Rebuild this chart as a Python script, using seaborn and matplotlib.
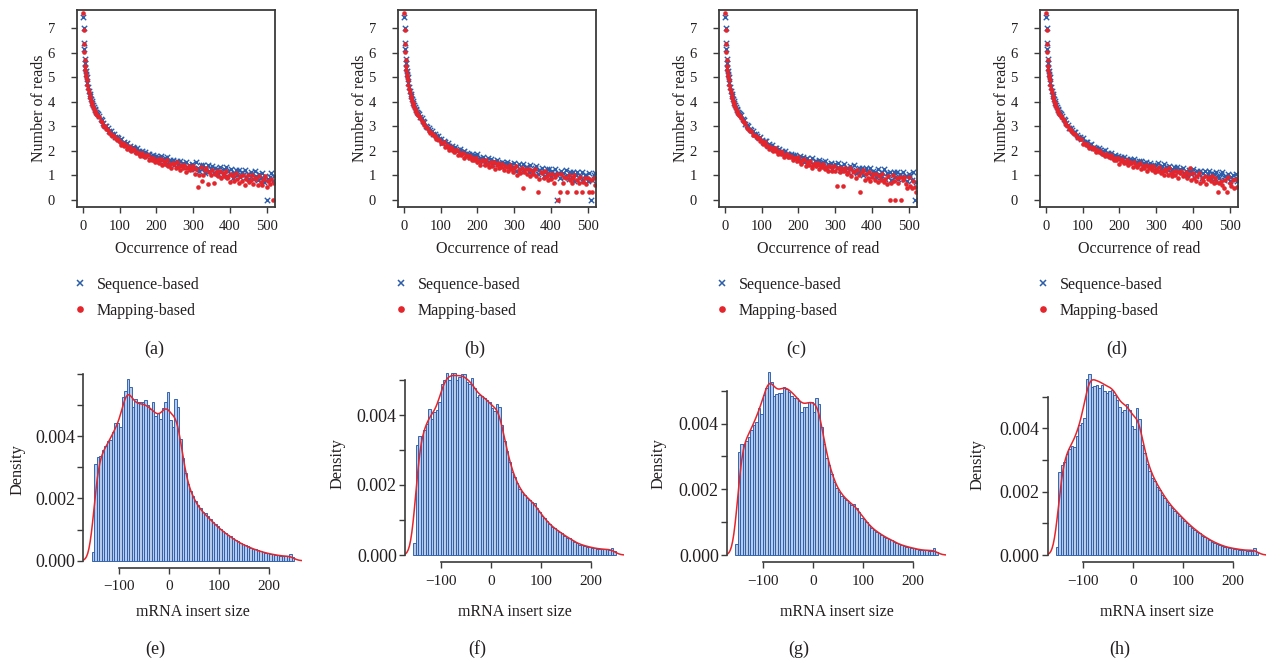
import matplotlib
matplotlib.use("Agg")
import matplotlib.pyplot as plt
from matplotlib.lines import Line2D
from matplotlib.ticker import MultipleLocator, FuncFormatter
import numpy as np
import pandas as pd
import seaborn as sns

sns.set_style("ticks")
plt.rcParams["font.family"] = ["Liberation Serif", "DejaVu Serif"]
plt.rcParams["axes.unicode_minus"] = True

# ---------------- data: read occurrence (top row) ----------------
OCCURRENCE = list(range(1, 11)) + list(range(12, 41, 2)) + list(range(44, 521, 4))

HEAD_SEQ = [7.45, 7.00, 6.42, 6.15, 5.75, 5.60, 5.40, 5.25, 5.12, 5.00,
            4.78, 4.61, 4.46, 4.33, 4.22, 4.12, 4.02, 3.94, 3.86, 3.79, 3.72, 3.66, 3.60, 3.55, 3.50]
HEAD_MAP = [7.62, 6.93, 6.35, 6.05, 5.70, 5.45, 5.30, 5.15, 5.02, 4.90,
            4.70, 4.53, 4.38, 4.25, 4.14, 4.04, 3.94, 3.86, 3.78, 3.71, 3.64, 3.58, 3.52, 3.47, 3.42]

SEQ_A_TAIL = [3.43, 3.29, 3.27, 3.14, 3.03, 2.99, 2.94, 2.80, 2.79, 2.70, 2.69, 2.56, 2.55, 2.52,
              2.43, 2.46, 2.30, 2.35, 2.26, 2.31, 2.17, 2.18, 2.07, 2.16, 2.10, 2.00, 2.10, 1.98, 1.91, 1.98, 1.89, 1.95, 1.79, 1.86, 1.88, 1.77, 1.78, 1.83, 1.68,
              1.77, 1.74, 1.58, 1.79, 1.64, 1.56, 1.69, 1.74, 1.47, 1.61, 1.51, 1.64, 1.40, 1.52, 1.58, 1.45, 1.58, 1.37, 1.50, 1.41, 1.54, 1.35, 1.41, 1.27, 1.45,
              1.41, 1.24, 1.52, 1.31, 1.18, 1.40, 1.25, 1.42, 1.10, 1.31, 1.40, 1.18, 1.24, 1.39, 1.09, 1.28, 1.25, 1.05, 1.34, 1.15, 1.05, 1.24, 1.32, 0.97, 1.16,
              1.03, 1.24, 0.89, 1.08, 1.20, 1.01, 1.22, 0.91, 1.12, 1.00, 1.21, 0.92, 1.03, 0.83, 1.12, 1.05, 0.86, 1.18, 0.95, 0.80, 1.06, 0.89, 1.08, 0.74, 0.97, 0.00, 0.84, 0.91, 1.09, 0.76, 0.97]
MAP_A_TAIL = [3.36, 3.23, 3.18, 3.03, 2.99, 2.88, 2.86, 2.74, 2.70, 2.60, 2.60, 2.53, 2.45, 2.46,
              2.34, 2.23, 2.31, 2.19, 2.24, 2.05, 2.13, 2.14, 2.00, 2.01, 2.06, 1.89, 1.96, 1.92, 1.80, 1.92, 1.80, 1.74, 1.81, 1.83, 1.64, 1.72, 1.64, 1.72, 1.55,
              1.59, 1.66, 1.51, 1.66, 1.42, 1.57, 1.46, 1.62, 1.39, 1.47, 1.30, 1.51, 1.45, 1.30, 1.52, 1.35, 1.23, 1.41, 1.28, 1.42, 1.14, 1.31, 1.39, 1.20, 1.24,
              1.38, 1.05, 1.26, 0.52, 1.00, 1.33, 0.75, 1.01, 1.22, 1.31, 0.66, 1.13, 1.00, 1.21, 0.70, 1.05, 1.16, 0.97, 1.18, 0.87, 1.08, 0.95, 1.16, 0.87, 0.98,
              0.71, 1.03, 0.96, 0.75, 1.10, 0.85, 0.68, 0.96, 0.77, 0.99, 0.61, 0.86, 0.99, 0.72, 0.80, 0.99, 0.63, 0.87, 0.84, 0.58, 0.96, 0.73, 0.61, 0.85, 0.95, 0.52, 0.76, 0.62, 0.86, 0.00, 0.69]

SEQ_B_TAIL = [3.38, 3.33, 3.21, 3.17, 3.01, 2.97, 2.92, 2.83, 2.81, 2.69, 2.68, 2.59, 2.59, 2.48,
              2.46, 2.33, 2.41, 2.34, 2.23, 2.32, 2.20, 2.11, 2.18, 2.09, 2.14, 1.97, 2.04, 2.05, 1.94, 1.94, 1.98, 1.83, 1.90, 1.86, 1.76, 1.87, 1.77, 1.71, 1.78,
              1.85, 1.58, 1.71, 1.62, 1.74, 1.51, 1.62, 1.69, 1.55, 1.68, 1.47, 1.60, 1.50, 1.64, 1.44, 1.50, 1.36, 1.54, 1.49, 1.36, 1.55, 1.40, 1.30, 1.46, 1.33,
              1.49, 1.17, 1.38, 1.47, 1.25, 1.31, 1.46, 1.16, 1.35, 1.32, 1.12, 1.41, 1.22, 1.12, 1.31, 1.39, 1.04, 1.23, 1.11, 1.30, 0.98, 1.15, 1.25, 1.08, 1.26,
              0.97, 1.18, 1.05, 1.26, 0.00, 1.09, 0.88, 1.17, 1.10, 0.92, 1.23, 1.00, 0.85, 1.11, 0.94, 1.13, 0.78, 1.02, 1.13, 0.88, 0.96, 1.13, 0.80, 1.02, 0.99, 0.76, 1.10, 0.00, 0.79, 1.00, 1.09]
MAP_B_TAIL = [3.34, 3.20, 3.17, 3.07, 2.95, 2.93, 2.82, 2.73, 2.72, 2.63, 2.61, 2.48, 2.48, 2.45,
              2.31, 2.30, 2.34, 2.16, 2.22, 2.17, 2.04, 2.15, 2.03, 1.96, 2.03, 2.04, 1.84, 1.91, 1.83, 1.90, 1.72, 1.79, 1.82, 1.71, 1.79, 1.64, 1.72, 1.64, 1.72,
              1.52, 1.59, 1.42, 1.63, 1.57, 1.42, 1.64, 1.47, 1.34, 1.53, 1.39, 1.53, 1.25, 1.42, 1.49, 1.30, 1.35, 1.47, 1.22, 1.37, 1.34, 1.16, 1.41, 1.25, 1.15,
              1.30, 1.39, 1.00, 1.21, 1.08, 1.29, 0.47, 1.13, 1.24, 1.05, 1.26, 0.95, 1.16, 1.03, 1.24, 0.95, 0.31, 0.85, 1.14, 1.07, 0.88, 1.19, 0.96, 0.81, 1.06,
              0.84, 1.05, 0.67, 0.92, 1.06, 0.00, 0.31, 1.05, 0.69, 0.93, 0.90, 0.31, 1.01, 0.79, 0.67, 0.90, 1.00, 0.31, 0.81, 0.67, 0.91, 0.31, 0.74, 0.87, 0.66, 0.90, 0.31, 0.80, 0.31, 0.90, 0.58]

SEQ_C_TAIL = [3.44, 3.31, 3.26, 3.10, 3.06, 3.00, 2.88, 2.84, 2.82, 2.69, 2.68, 2.61, 2.52, 2.54,
              2.44, 2.35, 2.40, 2.40, 2.21, 2.26, 2.18, 2.23, 2.06, 2.11, 2.13, 2.03, 2.08, 1.93, 2.00, 1.92, 1.98, 1.85, 1.88, 1.77, 1.87, 1.82, 1.73, 1.84, 1.73,
              1.62, 1.77, 1.64, 1.76, 1.52, 1.67, 1.72, 1.56, 1.59, 1.70, 1.47, 1.60, 1.57, 1.42, 1.62, 1.48, 1.40, 1.53, 1.58, 1.32, 1.45, 1.36, 1.49, 1.26, 1.37,
              1.47, 1.30, 1.48, 1.20, 1.39, 1.27, 1.46, 1.20, 1.30, 1.11, 1.37, 1.30, 1.13, 1.41, 1.20, 1.07, 1.29, 1.14, 1.31, 0.99, 1.20, 1.29, 1.07, 1.13, 1.28,
              0.97, 1.18, 1.15, 0.92, 1.26, 1.05, 0.94, 1.15, 1.24, 0.86, 1.07, 0.94, 1.15, 0.81, 1.00, 1.11, 0.92, 1.14, 0.83, 1.04, 0.92, 1.13, 0.84, 0.96, 0.75, 1.04, 0.98, 0.79, 1.11, 0.00, 0.73]
MAP_C_TAIL = [3.34, 3.22, 3.17, 3.10, 2.93, 2.90, 2.80, 2.79, 2.66, 2.64, 2.60, 2.51, 2.50, 2.39,
              2.39, 2.28, 2.34, 2.18, 2.19, 2.06, 2.16, 2.10, 1.99, 2.10, 1.97, 1.88, 1.97, 1.86, 1.93, 1.75, 1.83, 1.86, 1.73, 1.74, 1.80, 1.64, 1.72, 1.69, 1.57,
              1.73, 1.56, 1.46, 1.62, 1.67, 1.38, 1.52, 1.42, 1.57, 1.30, 1.43, 1.51, 1.36, 1.51, 1.27, 1.42, 1.32, 1.47, 1.25, 1.33, 1.16, 1.37, 1.32, 1.17, 1.39,
              1.18, 0.55, 1.28, 1.11, 1.30, 0.55, 1.18, 1.29, 1.04, 1.11, 1.28, 0.95, 1.16, 1.13, 0.90, 1.23, 1.02, 0.30, 1.12, 1.21, 0.82, 1.03, 0.90, 1.11, 0.76,
              0.91, 1.03, 0.82, 1.06, 0.73, 0.96, 0.82, 1.05, 0.73, 0.86, 0.63, 0.95, 0.00, 0.68, 1.02, 0.77, 0.00, 0.89, 0.70, 0.91, 0.00, 0.79, 0.92, 0.65, 0.48, 0.92, 0.57, 0.48, 0.78, 0.52, 0.30]

SEQ_D_TAIL = [3.43, 3.31, 3.26, 3.13, 3.05, 2.94, 2.92, 2.85, 2.76, 2.75, 2.66, 2.58, 2.57, 2.49,
              2.50, 2.34, 2.37, 2.37, 2.25, 2.24, 2.27, 2.12, 2.17, 2.13, 2.03, 2.11, 2.01, 1.95, 2.00, 2.01, 1.85, 1.90, 1.84, 1.89, 1.76, 1.80, 1.82, 1.74, 1.79,
              1.65, 1.74, 1.66, 1.76, 1.60, 1.65, 1.53, 1.67, 1.62, 1.52, 1.66, 1.54, 1.45, 1.57, 1.47, 1.56, 1.38, 1.48, 1.53, 1.40, 1.42, 1.50, 1.33, 1.43, 1.40,
              1.25, 1.48, 1.33, 1.25, 1.39, 1.45, 1.17, 1.32, 1.22, 1.37, 1.12, 1.25, 1.32, 1.19, 1.33, 1.11, 1.26, 1.16, 1.31, 1.10, 1.17, 1.02, 1.22, 1.17, 1.04,
              1.27, 1.08, 0.96, 1.16, 1.03, 1.18, 0.90, 1.08, 1.17, 0.98, 1.03, 1.16, 0.90, 1.07, 1.05, 0.86, 1.12, 0.96, 0.87, 1.04, 1.12, 0.81, 0.97, 0.88, 1.04, 0.76, 0.92, 1.01, 0.86, 1.03, 0.78]
MAP_D_TAIL = [3.35, 3.27, 3.14, 3.06, 3.00, 2.87, 2.83, 2.77, 2.67, 2.67, 2.58, 2.50, 2.49, 2.46,
              2.28, 2.32, 2.23, 2.27, 2.11, 2.14, 2.16, 2.05, 2.10, 1.96, 2.01, 1.94, 1.99, 1.85, 1.88, 1.77, 1.86, 1.81, 1.73, 1.82, 1.71, 1.64, 1.72, 1.64, 1.69,
              1.46, 1.60, 1.65, 1.49, 1.52, 1.63, 1.40, 1.53, 1.50, 1.35, 1.55, 1.41, 1.32, 1.46, 1.50, 1.24, 1.38, 1.28, 1.41, 1.18, 1.29, 1.36, 1.23, 1.36, 1.15,
              1.27, 1.16, 1.33, 1.09, 1.18, 1.00, 1.24, 1.18, 1.02, 1.28, 1.08, 0.95, 1.17, 1.02, 1.18, 0.88, 1.07, 1.17, 0.95, 1.01, 1.15, 0.87, 1.05, 1.30, 0.82,
              1.08, 0.88, 0.78, 0.98, 1.07, 0.70, 0.90, 0.77, 0.97, 0.65, 0.83, 0.93, 0.75, 0.96, 0.67, 0.87, 0.74, 0.31, 0.68, 0.78, 0.59, 0.47, 0.80, 0.31, 0.92, 0.70, 0.57, 0.81, 0.47, 0.83, 0.50]

SERIES_NAMES = ["Sequence-based", "Mapping-based"]
TOP_LABELS = ["(a)", "(b)", "(c)", "(d)"]

# ---------------- data: mRNA insert size densities (bottom row) ----------------
INSERT_BIN_START = -155
INSERT_BIN_WIDTH = 5
DENS_E = [0.00029, 0.00310, 0.00334, 0.00336, 0.00355, 0.00368, 0.00385, 0.00387, 0.00414, 0.00441,
          0.00441, 0.00430, 0.00524, 0.00546, 0.00582, 0.00559, 0.00492, 0.00518, 0.00510, 0.00508,
          0.00510, 0.00516, 0.00500, 0.00486, 0.00510, 0.00464, 0.00475, 0.00454, 0.00490, 0.00510,
          0.00543, 0.00452, 0.00430, 0.00518, 0.00492, 0.00390, 0.00330, 0.00280, 0.00245, 0.00225,
          0.00208, 0.00192, 0.00178, 0.00168, 0.00155, 0.00152, 0.00142, 0.00134, 0.00125, 0.00118,
          0.00110, 0.00102, 0.00096, 0.00090, 0.00084, 0.00078, 0.00072, 0.00067, 0.00062, 0.00057,
          0.00053, 0.00049, 0.00046, 0.00042, 0.00039, 0.00036, 0.00033, 0.00030, 0.00028, 0.00026,
          0.00024, 0.00022, 0.00020, 0.00019, 0.00018, 0.00016, 0.00015, 0.00014, 0.00014, 0.00020, 0.00012]
DENS_F = [0.00033, 0.00314, 0.00341, 0.00341, 0.00357, 0.00373, 0.00417, 0.00390, 0.00410, 0.00414,
          0.00438, 0.00488, 0.00500, 0.00519, 0.00500, 0.00519, 0.00520, 0.00500, 0.00510, 0.00518,
          0.00518, 0.00493, 0.00490, 0.00506, 0.00476, 0.00452, 0.00457, 0.00455, 0.00448, 0.00443,
          0.00438, 0.00419, 0.00412, 0.00432, 0.00423, 0.00371, 0.00326, 0.00297, 0.00267, 0.00238,
          0.00224, 0.00205, 0.00189, 0.00179, 0.00171, 0.00164, 0.00157, 0.00152, 0.00150, 0.00133,
          0.00124, 0.00112, 0.00105, 0.00097, 0.00088, 0.00081, 0.00076, 0.00071, 0.00067, 0.00062,
          0.00055, 0.00050, 0.00050, 0.00043, 0.00038, 0.00034, 0.00030, 0.00029, 0.00027, 0.00024,
          0.00023, 0.00021, 0.00020, 0.00018, 0.00017, 0.00017, 0.00016, 0.00016, 0.00015, 0.00020, 0.00011]
DENS_G = [0.00032, 0.00314, 0.00338, 0.00338, 0.00347, 0.00360, 0.00380, 0.00396, 0.00406, 0.00448,
          0.00428, 0.00487, 0.00507, 0.00556, 0.00527, 0.00485, 0.00489, 0.00492, 0.00492, 0.00512,
          0.00505, 0.00495, 0.00485, 0.00479, 0.00477, 0.00469, 0.00436, 0.00451, 0.00451, 0.00464,
          0.00464, 0.00436, 0.00477, 0.00458, 0.00390, 0.00337, 0.00296, 0.00274, 0.00245, 0.00223,
          0.00203, 0.00193, 0.00180, 0.00174, 0.00167, 0.00157, 0.00152, 0.00154, 0.00142, 0.00132,
          0.00114, 0.00110, 0.00101, 0.00091, 0.00081, 0.00076, 0.00071, 0.00066, 0.00061, 0.00056,
          0.00051, 0.00048, 0.00046, 0.00041, 0.00035, 0.00032, 0.00030, 0.00028, 0.00025, 0.00023,
          0.00022, 0.00020, 0.00018, 0.00016, 0.00015, 0.00014, 0.00014, 0.00013, 0.00013, 0.00020, 0.00010]
DENS_H = [0.00026, 0.00261, 0.00284, 0.00293, 0.00318, 0.00335, 0.00345, 0.00342, 0.00377, 0.00411,
          0.00416, 0.00432, 0.00556, 0.00570, 0.00532, 0.00535, 0.00537, 0.00528, 0.00537, 0.00518,
          0.00511, 0.00518, 0.00520, 0.00505, 0.00489, 0.00468, 0.00453, 0.00458, 0.00476, 0.00458,
          0.00408, 0.00398, 0.00463, 0.00429, 0.00347, 0.00321, 0.00286, 0.00265, 0.00242, 0.00234,
          0.00216, 0.00205, 0.00189, 0.00181, 0.00166, 0.00158, 0.00147, 0.00139, 0.00132, 0.00124,
          0.00116, 0.00107, 0.00100, 0.00093, 0.00086, 0.00079, 0.00074, 0.00068, 0.00061, 0.00056,
          0.00053, 0.00047, 0.00042, 0.00039, 0.00036, 0.00032, 0.00029, 0.00026, 0.00024, 0.00022,
          0.00021, 0.00020, 0.00018, 0.00017, 0.00016, 0.00015, 0.00014, 0.00014, 0.00013, 0.00023, 0.00010]
BOTTOM_LABELS = ["(e)", "(f)", "(g)", "(h)"]

# ---------------- styling ----------------
W, H = 1271, 662
fig = plt.figure(figsize=(W / 100, H / 100), dpi=100)

INK = "#3b3b3b"
TXT = "#231f20"
BLUE = "#2b5dab"
RED = "#e5252c"
BAR_FACE = "#b6cbea"
BAR_EDGE = "#2c5caa"


def px_axes(left, top, right, bottom):
    return fig.add_axes([left / W, 1 - bottom / H, (right - left) / W, (bottom - top) / H])


top_sets = [(SEQ_A_TAIL, MAP_A_TAIL), (SEQ_B_TAIL, MAP_B_TAIL),
            (SEQ_C_TAIL, MAP_C_TAIL), (SEQ_D_TAIL, MAP_D_TAIL)]

for k, (seq_tail, map_tail) in enumerate(top_sets):
    x0 = 77 + 321 * k
    ax = px_axes(x0, 10, x0 + 198, 207)
    seq_vals = HEAD_SEQ + seq_tail
    map_vals = HEAD_MAP + map_tail
    df = pd.DataFrame({
        "occ": OCCURRENCE + OCCURRENCE,
        "val": seq_vals + map_vals,
        "method": [SERIES_NAMES[0]] * len(seq_vals) + [SERIES_NAMES[1]] * len(map_vals),
    })
    sns.scatterplot(data=df[df["method"] == SERIES_NAMES[0]], x="occ", y="val",
                    marker="x", color=BLUE, s=15, linewidth=1.0, ax=ax, legend=False)
    sns.scatterplot(data=df[df["method"] == SERIES_NAMES[1]], x="occ", y="val",
                    marker="o", color=RED, s=11, linewidth=0, ax=ax, legend=False)
    ax.set_xlim(-16, 522.5)
    ax.set_ylim(-0.30, 7.75)
    ax.set_xticks([0, 100, 200, 300, 400, 500])
    ax.set_yticks(list(range(8)))
    ax.set_xlabel("Occurrence of read", fontsize=11.5, color=TXT)
    ax.set_ylabel("Number of reads", fontsize=11.5, color=TXT)
    ax.xaxis.set_label_coords(0.5, (207 - 241) / 197)
    ax.yaxis.set_label_coords((47 - 77) / 198, 0.5)
    for sp in ax.spines.values():
        sp.set_color(INK)
        sp.set_linewidth(1.3)
    ax.tick_params(axis="both", direction="out", length=4, width=1, color=INK,
                   labelsize=10.5, labelcolor=TXT)
    ax.tick_params(axis="y", pad=12)
    ax.tick_params(axis="x", pad=5)
    handles = [Line2D([], [], marker="x", linestyle="none", color=BLUE, markersize=4.5, markeredgewidth=1.1),
               Line2D([], [], marker="o", linestyle="none", color=RED, markersize=4.8, markeredgewidth=0)]
    leg = ax.legend(handles, SERIES_NAMES, loc="upper left",
                    bbox_to_anchor=((x0 - 5) / W, 1 - 277 / H), bbox_transform=fig.transFigure,
                    frameon=False, fontsize=11.5, handletextpad=0.55, labelspacing=0.62,
                    borderaxespad=0, borderpad=0, handlelength=1.0)
    for t in leg.get_texts():
        t.set_color(TXT)
    fig.text((x0 + 77) / W, 1 - 349 / H, TOP_LABELS[k], ha="center", va="center",
             fontsize=13, color=TXT)

# bottom row: per-panel geometry (pixel position of x=0, y=0 and scale)
bottom_sets = [
    (DENS_E, 169.0, 560.7, 31150.0),
    (DENS_F, 490.7, 555.0, 35000.0),
    (DENS_G, 812.7, 555.0, 32870.0),
    (DENS_H, 1133.3, 555.0, 31670.0),
]
XMIN, XMAX = -171.2, 266.2

for k, (dens, zero_x, zero_y, yscale) in enumerate(bottom_sets):
    m = max(dens)
    ylo, yhi = -0.04 * m, 1.04 * m
    left = zero_x + 0.5 * XMIN
    right = zero_x + 0.5 * XMAX
    top = zero_y - yhi * yscale
    bottom = zero_y - ylo * yscale
    ax = px_axes(left, top, right, bottom)
    edges = INSERT_BIN_START + INSERT_BIN_WIDTH * np.arange(len(dens) + 1)
    centers = (edges[:-1] + edges[1:]) / 2
    hdf = pd.DataFrame({"size": centers, "density": dens})
    sns.histplot(data=hdf, x="size", weights="density", binwidth=INSERT_BIN_WIDTH,
                 binrange=(edges[0], edges[-1]), stat="count", color=BAR_FACE,
                 edgecolor=BAR_EDGE, linewidth=0.65, alpha=1, ax=ax)
    sns.kdeplot(data=hdf, x="size", weights="density", bw_method=0.11, cut=3, color=RED,
                linewidth=1.1, ax=ax)
    ax.set_xlim(XMIN, XMAX)
    ax.set_ylim(ylo, yhi)
    ax.set_xticks([-100, 0, 100, 200])
    ax.yaxis.set_major_locator(MultipleLocator(0.001))
    ax.yaxis.set_major_formatter(FuncFormatter(
        lambda v, p: f"{v:.3f}" if (round(v * 1000) % 2 == 0 and v < 0.0055) else ""))
    ax.set_xlabel("mRNA insert size", fontsize=11.5, color=TXT)
    ax.set_ylabel("Density", fontsize=11.8, color=TXT)
    hgt = bottom - top
    wid = right - left
    ax.xaxis.set_label_coords(0.5, (bottom - 604) / hgt)
    ax.yaxis.set_label_coords((26 + 320 * k - left) / wid, 0.5)
    sns.despine(ax=ax, trim=True)
    for side in ("left", "bottom"):
        ax.spines[side].set_color(INK)
        ax.spines[side].set_linewidth(1.2)
    ax.tick_params(axis="both", direction="out", length=4, width=1, color=INK, labelcolor=TXT)
    ax.tick_params(axis="y", labelsize=13, pad=2)
    ax.tick_params(axis="x", labelsize=11, pad=5)
    fig.text((left + 72) / W, 1 - 649 / H, BOTTOM_LABELS[k], ha="center", va="center",
             fontsize=13, color=TXT)

fig.savefig("out.png", dpi=100)
